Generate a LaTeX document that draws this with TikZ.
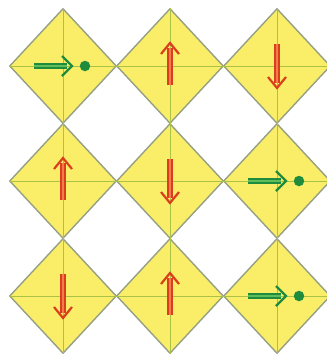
\documentclass[tikz,border=0pt]{standalone}
\usepackage{tikz}
\usetikzlibrary{arrows.meta,shapes.geometric,calc}
\definecolor{cellyellow}{RGB}{250,238,105}
\definecolor{edgegray}{RGB}{150,160,130}
\definecolor{guidegreen}{RGB}{170,195,70}
\definecolor{arrred}{RGB}{218,62,28}
\definecolor{arrorange}{RGB}{242,125,75}
\definecolor{arrgreen}{RGB}{30,140,60}
\definecolor{arrlight}{RGB}{95,190,90}

\begin{document}
\begin{tikzpicture}[
    x=1pt,y=-1pt,
    cell/.style={diamond,draw=edgegray,fill=cellyellow,line width=1.4pt,minimum width=107pt,minimum height=115pt,inner sep=0pt},
    guide/.style={draw=guidegreen,line width=0.8pt},
    redshaft/.style={draw=arrred,double=arrorange,double distance=2.4pt,line width=1.8pt},
    redhead/.style={draw=arrred,line width=2.2pt,line join=miter},
    grnshaft/.style={draw=arrgreen,double=arrlight,double distance=2.2pt,line width=1.8pt},
    grnhead/.style={draw=arrgreen,line width=2.2pt,line join=miter},
    dot/.style={circle,fill=arrgreen,inner sep=0pt,minimum size=10.5pt}
]
\useasboundingbox (0,0) rectangle (327,354);
% Grid of diamonds
\foreach \i in {0,1,2}
  \foreach \j in {0,1,2}
    \node[cell] (c\i\j) at (63+107*\i,66+115*\j) {};
% Cross lines in each cell
\foreach \i in {0,1,2}
  \foreach \j in {0,1,2}
    \draw[guide] (c\i\j.west) -- (c\i\j.east) (c\i\j.north) -- (c\i\j.south);
% Up arrows
\foreach \c in {10,01,12}{
  \draw[redshaft] ($(c\c.center)+(0,19)$) -- ($(c\c.center)+(0,-18)$);
  \draw[redhead] ($(c\c.center)+(-9,-12)$) -- ($(c\c.center)+(0,-23)$) -- ($(c\c.center)+(9,-12)$);
}
% Down arrows
\foreach \c in {20,11,02}{
  \draw[redshaft] ($(c\c.center)+(0,-22)$) -- ($(c\c.center)+(0,17)$);
  \draw[redhead] ($(c\c.center)+(-9,11)$) -- ($(c\c.center)+(0,22)$) -- ($(c\c.center)+(9,11)$);
}
% Green arrows with dot
\foreach \c in {00,21,22}{
  \draw[grnshaft] ($(c\c.center)+(-29,0)$) -- ($(c\c.center)+(4,0)$);
  \draw[grnhead] ($(c\c.center)+(-1,-10)$) -- ($(c\c.center)+(9,0)$) -- ($(c\c.center)+(-1,10)$);
  \node[dot] (d\c) at ($(c\c.center)+(22,0)$) {};
}
\end{tikzpicture}
\end{document}
